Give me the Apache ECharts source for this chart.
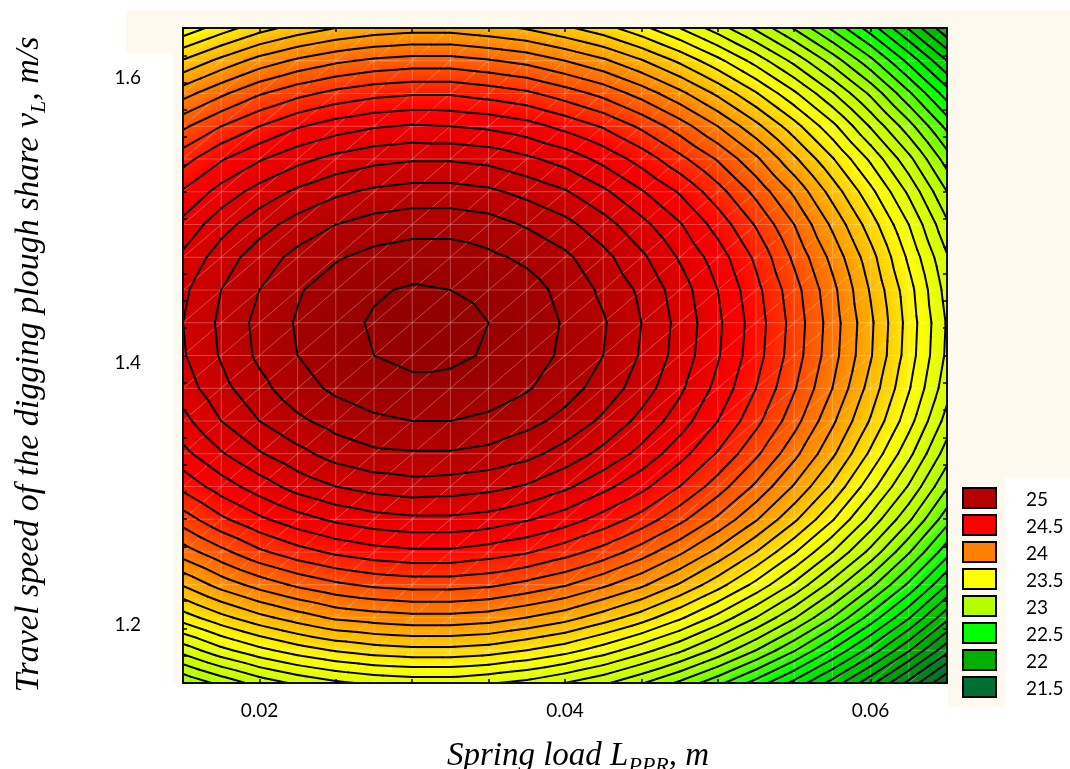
<!DOCTYPE html>
<html><head><meta charset="utf-8">
<script src="https://cdn.jsdelivr.net/npm/echarts@6/dist/echarts.min.js"></script>
<style>html,body{margin:0;padding:0;background:#fff}#c{width:1070px;height:769px}</style>
</head><body><div id="c"></div>
<script>
// Grid nodes of the response surface (Spring load, m  x  Travel speed, m/s)
const xValues = [0.015,0.0175,0.02,0.0225,0.025,0.0275,0.03,0.0325,0.035,0.0375,0.04,0.0425,0.045,0.0475,0.05,0.0525,0.055,0.0575,0.06,0.0625,0.065];
const yValues = [1.16,1.184,1.208,1.232,1.256,1.28,1.304,1.328,1.352,1.376,1.4,1.424,1.448,1.472,1.496,1.52,1.544,1.568,1.592,1.616,1.64];
// zRows[j][i] = value at (xValues[i], yValues[j])
const zRows = [
[22.91,23.03,23.14,23.22,23.28,23.32,23.34,23.34,23.31,23.27,23.20,23.12,23.01,22.88,22.73,22.56,22.37,22.16,21.93,21.67,21.40],
[23.24,23.37,23.47,23.55,23.61,23.65,23.67,23.67,23.65,23.60,23.54,23.45,23.34,23.22,23.07,22.90,22.71,22.49,22.26,22.01,21.73],
[23.55,23.67,23.77,23.85,23.92,23.95,23.97,23.97,23.95,23.90,23.84,23.75,23.65,23.52,23.37,23.20,23.01,22.80,22.56,22.31,22.03],
[23.81,23.94,24.04,24.12,24.18,24.22,24.24,24.24,24.22,24.17,24.11,24.02,23.92,23.79,23.64,23.47,23.28,23.06,22.83,22.58,22.30],
[24.05,24.17,24.28,24.36,24.42,24.46,24.48,24.48,24.45,24.41,24.34,24.26,24.15,24.02,23.87,23.70,23.51,23.30,23.07,22.81,22.54],
[24.25,24.38,24.48,24.56,24.62,24.66,24.68,24.68,24.66,24.61,24.55,24.46,24.36,24.23,24.08,23.91,23.72,23.51,23.27,23.02,22.74],
[24.43,24.55,24.65,24.74,24.80,24.84,24.86,24.85,24.83,24.79,24.72,24.63,24.53,24.40,24.25,24.08,23.89,23.68,23.44,23.19,22.91],
[24.57,24.69,24.79,24.87,24.94,24.98,24.99,24.99,24.97,24.93,24.86,24.77,24.67,24.54,24.39,24.22,24.03,23.82,23.58,23.33,23.05],
[24.67,24.80,24.90,24.98,25.04,25.08,25.10,25.10,25.08,25.03,24.97,24.88,24.77,24.65,24.50,24.33,24.14,23.92,23.69,23.44,23.16],
[24.75,24.87,24.97,25.06,25.12,25.16,25.18,25.17,25.15,25.11,25.04,24.96,24.85,24.72,24.57,24.40,24.21,24.00,23.76,23.51,23.24],
[24.79,24.91,25.02,25.10,25.16,25.20,25.22,25.22,25.19,25.15,25.08,25.00,24.89,24.76,24.61,24.44,24.25,24.04,23.81,23.55,23.28],
[24.80,24.92,25.03,25.11,25.17,25.21,25.23,25.23,25.20,25.16,25.09,25.01,24.90,24.77,24.62,24.45,24.26,24.05,23.82,23.56,23.29],
[24.78,24.90,25.00,25.09,25.15,25.19,25.21,25.20,25.18,25.14,25.07,24.98,24.88,24.75,24.60,24.43,24.24,24.03,23.79,23.54,23.26],
[24.72,24.85,24.95,25.03,25.09,25.13,25.15,25.15,25.12,25.08,25.02,24.93,24.82,24.69,24.55,24.38,24.18,23.97,23.74,23.48,23.21],
[24.63,24.76,24.86,24.94,25.00,25.04,25.06,25.06,25.04,24.99,24.93,24.84,24.73,24.61,24.46,24.29,24.10,23.88,23.65,23.40,23.12],
[24.51,24.64,24.74,24.82,24.88,24.92,24.94,24.94,24.92,24.87,24.81,24.72,24.61,24.49,24.34,24.17,23.98,23.76,23.53,23.28,23.00],
[24.36,24.49,24.59,24.67,24.73,24.77,24.79,24.79,24.77,24.72,24.66,24.57,24.46,24.33,24.19,24.02,23.82,23.61,23.38,23.13,22.85],
[24.18,24.30,24.40,24.49,24.55,24.59,24.61,24.60,24.58,24.54,24.47,24.39,24.28,24.15,24.00,23.83,23.64,23.43,23.19,22.94,22.67],
[23.96,24.08,24.19,24.27,24.33,24.37,24.39,24.39,24.36,24.32,24.25,24.17,24.06,23.93,23.78,23.61,23.42,23.21,22.98,22.72,22.45],
[23.71,23.83,23.94,24.02,24.08,24.12,24.14,24.14,24.11,24.07,24.00,23.92,23.81,23.68,23.53,23.36,23.17,22.96,22.73,22.47,22.20],
[23.43,23.55,23.66,23.74,23.80,23.84,23.86,23.86,23.83,23.79,23.72,23.64,23.53,23.40,23.25,23.08,22.89,22.68,22.45,22.19,21.92]
];
const contourLevels = [21.4,21.5,21.6,21.7,21.8,21.9,22.0,22.1,22.2,22.3,22.4,22.5,22.6,22.7,22.8,22.9,23.0,23.1,23.2,23.3,23.4,23.5,23.6,23.7,23.8,23.9,24.0,24.1,24.2,24.3,24.4,24.5,24.6,24.7,24.8,24.9,25.0,25.1,25.2];
const scaleValues = [21.0,21.5,22.0,22.5,23.0,23.5,24.0,24.5,25.0,25.3];
const scaleColors = ['#004C24','#007032','#00B000','#00FF00','#B4FF00','#FFFF00','#FF8000','#FF0000','#B40000','#880000'];
const legendValues = [25,24.5,24,23.5,23,22.5,22,21.5];
const legendLabels = ['25','24.5','24','23.5','23','22.5','22','21.5'];
const xTickLabels = [0.02,0.04,0.06];
const yTickLabels = [1.2,1.4,1.6];
const xTickValues = [0.015,0.02,0.025,0.03,0.035,0.04,0.045,0.05,0.055,0.06,0.065];
const yTickValues = [1.16,1.18,1.2,1.22,1.24,1.26,1.28,1.3,1.32,1.34,1.36,1.38,1.4,1.42,1.44,1.46,1.48,1.5,1.52,1.54,1.56,1.58,1.6,1.62,1.64];

const scaleRgb = scaleColors.map(h => [parseInt(h.slice(1,3),16), parseInt(h.slice(3,5),16), parseInt(h.slice(5,7),16)]);
function colorAt(z) {
  const n = scaleValues.length;
  let c;
  if (z <= scaleValues[0]) c = scaleRgb[0];
  else if (z >= scaleValues[n-1]) c = scaleRgb[n-1];
  else {
    for (let k = 0; k < n-1; k++) {
      if (z <= scaleValues[k+1]) {
        const t = (z - scaleValues[k]) / (scaleValues[k+1] - scaleValues[k]);
        const a = scaleRgb[k], b = scaleRgb[k+1];
        c = [a[0]+(b[0]-a[0])*t, a[1]+(b[1]-a[1])*t, a[2]+(b[2]-a[2])*t];
        break;
      }
    }
  }
  return 'rgb(' + Math.round(c[0]) + ',' + Math.round(c[1]) + ',' + Math.round(c[2]) + ')';
}
function triFill(p, z) {
  const zmin = Math.min(z[0], z[1], z[2]), zmax = Math.max(z[0], z[1], z[2]);
  const e1x = p[1][0]-p[0][0], e1y = p[1][1]-p[0][1], e2x = p[2][0]-p[0][0], e2y = p[2][1]-p[0][1];
  const d1 = z[1]-z[0], d2 = z[2]-z[0];
  const det = e1x*e2y - e1y*e2x;
  if (zmax - zmin < 1e-6 || Math.abs(det) < 1e-9) return colorAt((zmin+zmax)/2);
  const gx = (d1*e2y - d2*e1y)/det, gy = (d2*e1x - d1*e2x)/det;
  const g2 = gx*gx + gy*gy;
  const ax = p[0][0] + gx*(zmin - z[0])/g2, ay = p[0][1] + gy*(zmin - z[0])/g2;
  const bx = p[0][0] + gx*(zmax - z[0])/g2, by = p[0][1] + gy*(zmax - z[0])/g2;
  const stops = [{offset: 0, color: colorAt(zmin)}];
  scaleValues.forEach(v => { if (v > zmin && v < zmax) stops.push({offset: (v - zmin)/(zmax - zmin), color: colorAt(v)}); });
  stops.push({offset: 1, color: colorAt(zmax)});
  return {type: 'linear', x: ax, y: ay, x2: bx, y2: by, colorStops: stops, global: true};
}

const cells = [];
for (let j = 0; j < yValues.length - 1; j++)
  for (let i = 0; i < xValues.length - 1; i++)
    cells.push([xValues[i], yValues[j], xValues[i+1], yValues[j+1], i, j]);

function cellGeom(api) {
  const i = api.value(4), j = api.value(5);
  const p00 = api.coord([api.value(0), api.value(1)]);
  const p10 = api.coord([api.value(2), api.value(1)]);
  const p01 = api.coord([api.value(0), api.value(3)]);
  const p11 = api.coord([api.value(2), api.value(3)]);
  const z00 = zRows[j][i], z10 = zRows[j][i+1], z01 = zRows[j+1][i], z11 = zRows[j+1][i+1];
  return {i, j, p00, p10, p01, p11, tris: [[[p00,p10,p11],[z00,z10,z11]], [[p00,p11,p01],[z00,z11,z01]]]};
}

function renderFill(params, api) {
  const g = cellGeom(api);
  return {type: 'group', children: g.tris.map(([p, z]) => {
    const f = triFill(p, z);
    return {type: 'polygon', shape: {points: p}, style: {fill: f, stroke: f, lineWidth: 0.7}};
  })};
}
function renderMesh(params, api) {
  const g = cellGeom(api);
  const st = {stroke: 'rgba(255,255,255,0.32)', lineWidth: 0.8};
  const ch = [{type: 'line', shape: {x1: g.p00[0], y1: g.p00[1], x2: g.p11[0], y2: g.p11[1]}, style: st}];
  if (g.i > 0) ch.push({type: 'line', shape: {x1: g.p00[0], y1: g.p00[1], x2: g.p01[0], y2: g.p01[1]}, style: st});
  if (g.j > 0) ch.push({type: 'line', shape: {x1: g.p00[0], y1: g.p00[1], x2: g.p10[0], y2: g.p10[1]}, style: st});
  return {type: 'group', children: ch};
}
function renderContours(params, api) {
  const g = cellGeom(api);
  const ch = [];
  g.tris.forEach(([p, z]) => {
    contourLevels.forEach(L => {
      const pts = [];
      for (let e = 0; e < 3; e++) {
        const a = e, b = (e+1) % 3;
        const ia = z[a] >= L, ib = z[b] >= L;
        if (ia !== ib) {
          const t = (L - z[a]) / (z[b] - z[a]);
          pts.push([p[a][0] + (p[b][0]-p[a][0])*t, p[a][1] + (p[b][1]-p[a][1])*t]);
        }
      }
      if (pts.length === 2) ch.push({type: 'line', shape: {x1: pts[0][0], y1: pts[0][1], x2: pts[1][0], y2: pts[1][1]},
        style: {stroke: '#000', lineWidth: 2, lineCap: 'round'}});
    });
  });
  return {type: 'group', children: ch};
}

function makeRich(size) {
  return {
    i: {fontFamily: 'Liberation Serif', fontStyle: 'italic', fontSize: size, lineHeight: size + 8, color: '#000', verticalAlign: 'middle'},
    s: {fontFamily: 'Liberation Serif', fontStyle: 'italic', fontSize: Math.round(size * 0.66), lineHeight: Math.round(size * 0.66), color: '#000', verticalAlign: 'bottom'}
  };
}
const labelFont = {fontFamily: 'Lato', fontSize: 19, color: '#000'};

const graphic = [
  {type: 'rect', z: -5, silent: true, shape: {x: 126, y: 10, width: 944, height: 697}, style: {fill: '#FEF9EE'}},
  {type: 'rect', z: -4, silent: true, shape: {x: 0, y: 53, width: 173, height: 716}, style: {fill: '#fff'}},
  {type: 'rect', z: -4, silent: true, shape: {x: 0, y: 683, width: 948, height: 86}, style: {fill: '#fff'}},
  {type: 'rect', z: -4, silent: true, shape: {x: 1005, y: 477, width: 65, height: 292}, style: {fill: '#fff'}}
];
legendValues.forEach((v, k) => {
  graphic.push({type: 'rect', z: 20, shape: {x: 963, y: 488 + 27*k, width: 33, height: 20}, style: {fill: colorAt(v), stroke: '#000', lineWidth: 2}});
  graphic.push({type: 'text', z: 20, x: 1026, y: 500 + 27*k, style: {text: legendLabels[k], fill: '#000', font: '19px Lato', verticalAlign: 'middle', align: 'left'}});
});

const axisLineSt = {show: true, onZero: false, lineStyle: {color: '#111', width: 2}};
const tickSt = {color: '#000', width: 1.5};

const chart = echarts.init(document.getElementById('c'), null, {renderer: 'canvas'});
chart.setOption({
  animation: false,
  backgroundColor: '#fff',
  graphic: graphic,
  grid: {left: 183, right: 123, top: 28, bottom: 86, show: false, containLabel: false, outerBoundsMode: 'none'},
  xAxis: [
    {type: 'value', min: 0.015, max: 0.065, position: 'bottom', z: 10,
     axisLine: axisLineSt,
     axisTick: {show: true, inside: true, length: 4, customValues: xTickValues, lineStyle: tickSt},
     axisLabel: Object.assign({customValues: xTickLabels, margin: 18}, labelFont),
     splitLine: {show: false},
     name: '{i|Spring load L}{s|PPR}{i|, m}', nameLocation: 'middle', nameGap: 53,
     nameTextStyle: {rich: makeRich(33), padding: [0, 0, 0, 26]}},
    {type: 'value', min: 0.015, max: 0.065, position: 'top', z: 10,
     axisLine: axisLineSt,
     axisTick: {show: true, inside: true, length: 4, customValues: xTickValues, lineStyle: tickSt},
     axisLabel: {show: false}, splitLine: {show: false}}
  ],
  yAxis: [
    {type: 'value', min: 1.16, max: 1.64, position: 'left', z: 10,
     axisLine: axisLineSt,
     axisTick: {show: true, inside: true, length: 4, customValues: yTickValues, lineStyle: tickSt},
     axisLabel: Object.assign({customValues: yTickLabels, margin: 42,
       formatter: v => (Math.abs(v - 1.4) < 1e-9 ? '{d|1.4}' : (Math.abs(v - 1.6) < 1e-9 ? '{u|1.6}' : '{w|1.2}')),
       rich: {d: Object.assign({padding: [15, 0, 0, 0]}, labelFont), u: Object.assign({padding: [0, 0, 9, 0]}, labelFont), w: Object.assign({padding: [0, 0, 7, 0]}, labelFont)}
     }, labelFont),
     splitLine: {show: false},
     name: '{i|Travel speed of the digging plough share v}{s|L}{i|, m/s}', nameLocation: 'middle', nameGap: 133,
     nameTextStyle: {rich: makeRich(34), padding: [0, 18, 0, 0]}},
    {type: 'value', min: 1.16, max: 1.64, position: 'right', z: 10,
     axisLine: axisLineSt,
     axisTick: {show: true, inside: true, length: 4, customValues: yTickValues, lineStyle: tickSt},
     axisLabel: {show: false}, splitLine: {show: false}}
  ],
  series: [
    {type: 'custom', silent: true, z: 2, renderItem: renderFill, data: cells, encode: {x: [0, 2], y: [1, 3]}, clip: true},
    {type: 'custom', silent: true, z: 3, renderItem: renderMesh, data: cells, encode: {x: [0, 2], y: [1, 3]}, clip: true},
    {type: 'custom', silent: true, z: 4, renderItem: renderContours, data: cells, encode: {x: [0, 2], y: [1, 3]}, clip: true}
  ]
});
</script>
</body></html>
